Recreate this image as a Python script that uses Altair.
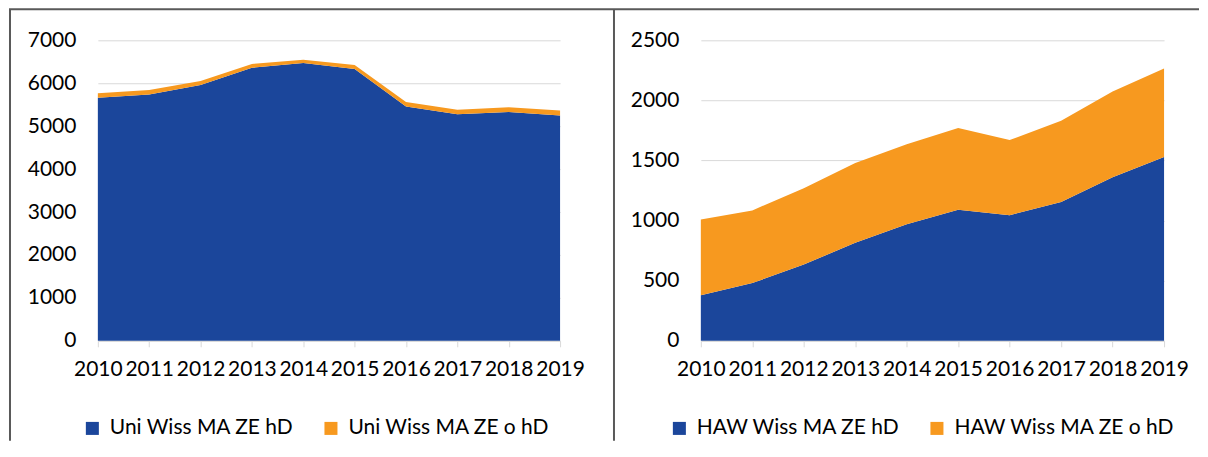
import altair as alt
import pandas as pd

years = [2010, 2011, 2012, 2013, 2014, 2015, 2016, 2017, 2018, 2019]
uni_hd = [5660, 5740, 5960, 6360, 6470, 6330, 5460, 5280, 5330, 5250]
uni_ohd = [105, 100, 90, 90, 80, 95, 105, 100, 110, 115]
haw_hd = [380, 480, 635, 815, 970, 1090, 1045, 1155, 1360, 1530]
haw_ohd = [630, 605, 635, 665, 665, 680, 625, 675, 715, 735]

uni_names = ["Uni Wiss MA ZE hD", "Uni Wiss MA ZE o hD"]
haw_names = ["HAW Wiss MA ZE hD", "HAW Wiss MA ZE o hD"]
uni_ticks = [0, 1000, 2000, 3000, 4000, 5000, 6000, 7000]
haw_ticks = [0, 500, 1000, 1500, 2000, 2500]

BLUE = "#1b469b"
ORANGE = "#f7991f"
FONT = "Lato"
FS = 21
FRAME = "#595959"


def long_df(names, a, b):
    rows = []
    for i, y in enumerate(years):
        rows.append({"year": y, "series": names[0], "value": a[i], "ord": 0})
        rows.append({"year": y, "series": names[1], "value": b[i], "ord": 1})
    return pd.DataFrame(rows)


def panel(df, names, ymax, yticks, legend_x, width, frame):
    area = alt.Chart(df).mark_area(opacity=1).encode(
        x=alt.X("year:O", scale=alt.Scale(type="point", padding=0),
                axis=alt.Axis(title=None, labelAngle=0, labelFontSize=FS, labelFont=FONT,
                              labelColor="#000000", domainColor="#d9d9d9", tickColor="#d9d9d9",
                              tickSize=6, labelPadding=12, labelOverlap=False, labelFlush=False,
                              grid=False)),
        y=alt.Y("value:Q", stack="zero", scale=alt.Scale(domain=[0, ymax], nice=False),
                axis=alt.Axis(title=None, values=yticks, format="d", labelFontSize=FS,
                              labelFont=FONT, labelColor="#000000", ticks=False, domain=False,
                              labelPadding=22, gridColor="#d9d9d9", gridWidth=1)),
        color=alt.Color("series:N", scale=alt.Scale(domain=names, range=[BLUE, ORANGE]),
                        legend=alt.Legend(title=None, orient="none", legendX=legend_x, legendY=378,
                                          direction="horizontal", columns=2, symbolType="square",
                                          symbolSize=170, symbolStrokeWidth=0, labelFontSize=FS,
                                          labelFont=FONT, labelColor="#000000", labelOffset=7,
                                          columnPadding=26, padding=0, labelLimit=400)),
        order=alt.Order("ord:Q"),
    )
    one = pd.DataFrame({"a": [0]})
    layers = [area]
    for f in frame:
        enc = {k: alt.value(v) for k, v in f.items()}
        layers.append(alt.Chart(one).mark_rule(color=FRAME, strokeWidth=2).encode(**enc))
    return alt.layer(*layers).properties(width=width, height=301)


left = panel(long_df(uni_names, uni_hd, uni_ohd), uni_names, 7000, uni_ticks, -16, 463,
             [{"x": -88, "y": -31, "y2": 401},
              {"x": -89, "x2": 1103, "y": -31}])
right = panel(long_df(haw_names, haw_hd, haw_ohd), haw_names, 2500, haw_ticks, -32, 464,
              [{"x": -87, "y": -31, "y2": 401}])

chart = alt.hconcat(left, right, spacing=141, bounds="flush").resolve_scale(
    color="independent", y="independent", x="independent"
).properties(padding=0).configure_view(stroke=None)

chart.save("out.html", embed_options={"renderer": "svg", "actions": False})
